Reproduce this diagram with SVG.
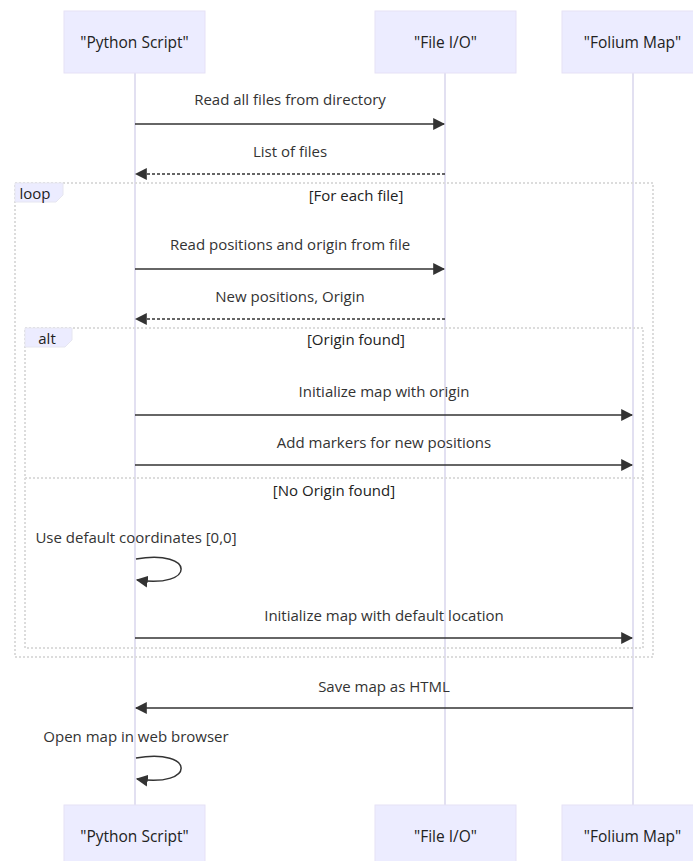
<svg xmlns="http://www.w3.org/2000/svg" width="693" height="861" viewBox="0 0 693 861">
  <style>
    text { font-family: "Open Sans", "Noto Sans", "DejaVu Sans", sans-serif; fill: #333; }
    .actor rect { fill: #ECECFF; stroke: #e6e1f6; stroke-width: 1; }
    .actor text { font-size: 15.5px; text-anchor: middle; dominant-baseline: central; fill: #222; }
    .lifeline { stroke: #d9d6ec; stroke-width: 1.5; }
    .msg { font-size: 15px; text-anchor: middle; }
    .line { stroke: #333; stroke-width: 1.5; fill: none; }
    .dash { stroke-dasharray: 3,2; }
    .frame { fill: none; stroke: #dcdcdc; stroke-width: 2; stroke-dasharray: 2,2; }
    .tag { fill: #ECECFF; stroke: #e6e6f0; stroke-width: 1; }
    .tagtext { font-size: 15px; text-anchor: middle; dominant-baseline: central; fill: #222; }
    .cond { font-size: 15px; text-anchor: middle; fill: #222; }
  </style>
  <defs>
    <marker id="arrowhead" viewBox="0 0 10 10" refX="9" refY="5" markerUnits="userSpaceOnUse" markerWidth="12" markerHeight="12" orient="auto">
      <path d="M0,0 L10,5 L0,10 z" fill="#333"/>
    </marker>
  </defs>
  <rect width="693" height="861" fill="#ffffff"/>

  <!-- lifelines -->
  <g id="lifelines">
    <line class="lifeline" x1="135" y1="73" x2="135" y2="805"/>
    <line class="lifeline" x1="445" y1="73" x2="445" y2="805"/>
    <line class="lifeline" x1="633" y1="73" x2="633" y2="805"/>
  </g>

  <!-- participants, top -->
  <g id="actor-python-top" class="actor">
    <rect x="64" y="11" width="141" height="62"/>
    <text x="134.5" y="42">"Python Script"</text>
  </g>
  <g id="actor-fileio-top" class="actor">
    <rect x="375" y="11" width="141" height="62"/>
    <text x="445.5" y="42">"File I/O"</text>
  </g>
  <g id="actor-folium-top" class="actor">
    <rect x="562" y="11" width="141" height="62"/>
    <text x="632.5" y="42">"Folium Map"</text>
  </g>

  <!-- loop frame -->
  <g id="frame-loop">
    <rect class="frame" x="15" y="183" width="638" height="474"/>
    <polygon class="tag" points="15,183 63,183 63,195 56,202 15,202"/>
    <text class="tagtext" x="35" y="193">loop</text>
    <text class="cond" x="356" y="201">[For each file]</text>
  </g>

  <!-- alt frame -->
  <g id="frame-alt">
    <rect class="frame" x="25" y="328" width="618" height="320"/>
    <polygon class="tag" points="25,328 72,328 72,340 65,347 25,347"/>
    <text class="tagtext" x="47" y="338">alt</text>
    <text class="cond" x="356" y="345">[Origin found]</text>
    <line class="frame" x1="25" y1="478" x2="643" y2="478"/>
    <text class="cond" x="334" y="496">[No Origin found]</text>
  </g>

  <!-- messages -->
  <g id="connectors">
    <text class="msg" x="290" y="105">Read all files from directory</text>
    <line class="line" x1="135" y1="124" x2="444" y2="124" marker-end="url(#arrowhead)"/>

    <text class="msg" x="290" y="157">List of files</text>
    <line class="line dash" x1="445" y1="174" x2="136" y2="174" marker-end="url(#arrowhead)"/>

    <text class="msg" x="290" y="250">Read positions and origin from file</text>
    <line class="line" x1="135" y1="269" x2="444" y2="269" marker-end="url(#arrowhead)"/>

    <text class="msg" x="290" y="302">New positions, Origin</text>
    <line class="line dash" x1="445" y1="319" x2="136" y2="319" marker-end="url(#arrowhead)"/>

    <text class="msg" x="384" y="397">Initialize map with origin</text>
    <line class="line" x1="135" y1="415" x2="632" y2="415" marker-end="url(#arrowhead)"/>

    <text class="msg" x="384" y="448">Add markers for new positions</text>
    <line class="line" x1="135" y1="465" x2="632" y2="465" marker-end="url(#arrowhead)"/>

    <text class="msg" x="136" y="543">Use default coordinates [0,0]</text>
    <path class="line" d="M136,559 C196,549 196,589 137,580" marker-end="url(#arrowhead)"/>

    <text class="msg" x="384" y="621">Initialize map with default location</text>
    <line class="line" x1="135" y1="638" x2="632" y2="638" marker-end="url(#arrowhead)"/>

    <text class="msg" x="384" y="692">Save map as HTML</text>
    <line class="line" x1="633" y1="708" x2="136" y2="708" marker-end="url(#arrowhead)"/>

    <text class="msg" x="136" y="742">Open map in web browser</text>
    <path class="line" d="M136,758 C196,748 196,788 137,779" marker-end="url(#arrowhead)"/>
  </g>

  <!-- participants, bottom -->
  <g id="actor-python-bottom" class="actor">
    <rect x="64" y="805" width="141" height="62"/>
    <text x="134.5" y="836">"Python Script"</text>
  </g>
  <g id="actor-fileio-bottom" class="actor">
    <rect x="375" y="805" width="141" height="62"/>
    <text x="445.5" y="836">"File I/O"</text>
  </g>
  <g id="actor-folium-bottom" class="actor">
    <rect x="562" y="805" width="141" height="62"/>
    <text x="632.5" y="836">"Folium Map"</text>
  </g>
</svg>
